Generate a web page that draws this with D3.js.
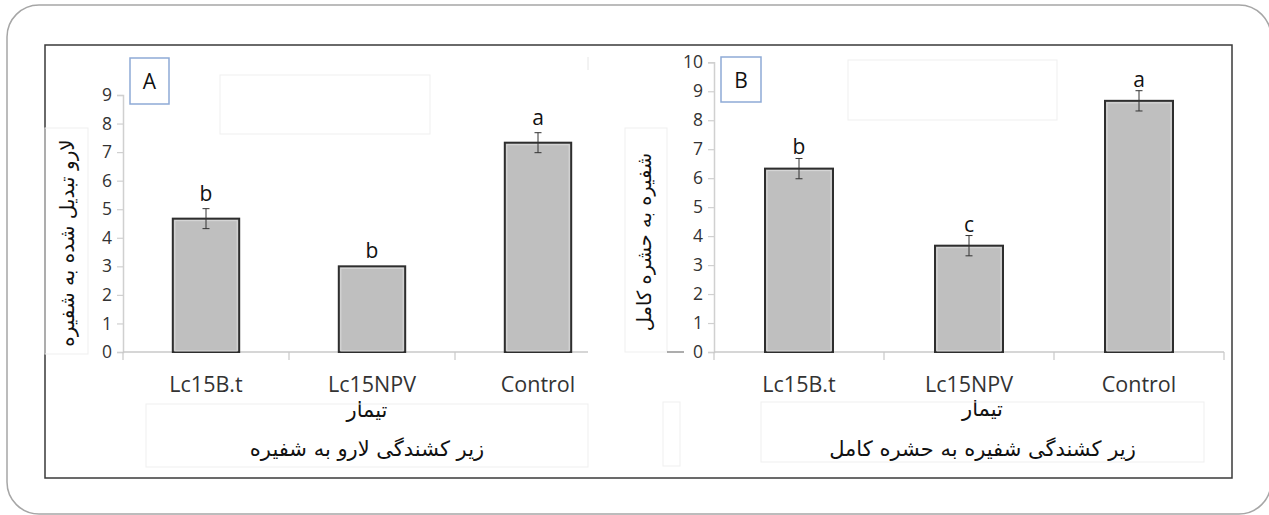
<!DOCTYPE html>
<html>
<head>
<meta charset="utf-8">
<script src="https://cdn.jsdelivr.net/npm/d3@7"></script>
<style>
  body { margin: 0; background: #fff; }
  svg { display: block; }
</style>
</head>
<body>
<svg id="chart"></svg>
<script>
const categories = ["Lc15B.t", "Lc15NPV", "Control"];

const meansA = [4.67, 3.0, 7.33];
const errorsA = [0.35, 0, 0.35];
const lettersA = ["b", "b", "a"];
const ticksA = [0, 1, 2, 3, 4, 5, 6, 7, 8, 9];

const meansB = [6.33, 3.67, 8.67];
const errorsB = [0.35, 0.35, 0.35];
const lettersB = ["b", "c", "a"];
const ticksB = [0, 1, 2, 3, 4, 5, 6, 7, 8, 9, 10];

const yTitleA = "لارو تبدیل شده به شفیره";
const yTitleB = "شفیره به حشره کامل";
const xTitle = "تیمار";
const subTitleA = "زیر کشندگی لارو به شفیره";
const subTitleB = "زیر کشندگی شفیره به حشره کامل";

const width = 1269;
const height = 515;
const latin = "'Open Sans', 'Liberation Sans', sans-serif";
const persian = "'DejaVu Sans', 'Noto Sans', sans-serif";

const svg = d3.select("#chart").attr("width", width).attr("height", height);

// slide outline + figure frame
svg.append("rect")
  .attr("x", 7).attr("y", 5).attr("width", 1264).attr("height", 509)
  .attr("rx", 32).attr("fill", "none")
  .attr("stroke", "#a6a6a6").attr("stroke-width", 1.5);

svg.append("rect")
  .attr("x", 45).attr("y", 45).attr("width", 1187).attr("height", 433)
  .attr("fill", "#fff").attr("stroke", "#3a3a3a").attr("stroke-width", 1.5);

function faintBox(x0, y0, x1, y1) {
  svg.append("rect")
    .attr("x", x0).attr("y", y0).attr("width", x1 - x0).attr("height", y1 - y0)
    .attr("fill", "none").attr("stroke", "#efefef").attr("stroke-width", 1);
}

function drawPanel(p) {
  const g = svg.append("g");
  const x = d3.scaleBand().domain(categories).range(p.xRange).paddingInner(0.6).paddingOuter(0.3);
  const y = d3.scaleLinear().domain([0, p.yMax]).range([352, p.yTop]);
  const data = categories.map((c, i) => ({ c, m: p.means[i], e: p.errors[i], l: p.letters[i] }));

  // faint helper boxes from the original layout
  faintBox(...p.yTitleBox);
  faintBox(...p.xTitleBox);
  faintBox(...p.emptyBox);

  // y axis
  const yAxis = g.append("g")
    .attr("transform", `translate(${p.xRange[0]},0)`)
    .call(d3.axisLeft(y).tickValues(p.ticks).tickSize(6).tickPadding(5));
  yAxis.select(".domain").attr("stroke", "#d0d0d0").attr("stroke-width", 1.5);
  yAxis.selectAll(".tick line").attr("stroke", "#d0d0d0").attr("stroke-width", 1.2);
  yAxis.selectAll(".tick text")
    .attr("fill", "#333").attr("font-size", 17.5).attr("font-family", latin);

  // x axis (line drawn only over the visible plot area)
  const step = x.step();
  const bounds = d3.range(categories.length + 1).map((i) => p.xRange[0] + i * step)
    .filter((b) => b <= p.axisEnd + 0.5);
  g.append("line")
    .attr("x1", p.xRange[0]).attr("x2", p.axisEnd)
    .attr("y1", y(0)).attr("y2", y(0))
    .attr("stroke", "#c8c8c8").attr("stroke-width", 1.5);
  g.selectAll(".xtick").data(bounds).join("line")
    .attr("x1", (d) => d).attr("x2", (d) => d)
    .attr("y1", y(0)).attr("y2", y(0) + 8)
    .attr("stroke", "#c8c8c8").attr("stroke-width", 1.2);
  g.selectAll(".xlab").data(categories).join("text")
    .attr("x", (d) => x(d) + x.bandwidth() / 2)
    .attr("y", 392)
    .attr("text-anchor", "middle")
    .attr("fill", "#333").attr("font-size", 21.5).attr("font-family", latin)
    .text((d) => d);

  // bars
  g.selectAll(".bar").data(data).join("rect")
    .attr("x", (d) => x(d.c)).attr("y", (d) => y(d.m))
    .attr("width", x.bandwidth()).attr("height", (d) => y(0) - y(d.m))
    .attr("fill", "#bfbfbf").attr("stroke", "#2e2e2e").attr("stroke-width", 2);
  g.selectAll(".barhi").data(data).join("rect")
    .attr("x", (d) => x(d.c) + 2).attr("y", (d) => y(d.m) + 2)
    .attr("width", x.bandwidth() - 4).attr("height", (d) => y(0) - y(d.m) - 3)
    .attr("fill", "none").attr("stroke", "#d9d9d9").attr("stroke-width", 1);

  // error bars
  const eb = data.filter((d) => d.e > 0);
  const cx = (d) => x(d.c) + x.bandwidth() / 2;
  g.selectAll(".ev").data(eb).join("line")
    .attr("x1", cx).attr("x2", cx)
    .attr("y1", (d) => y(d.m + d.e)).attr("y2", (d) => y(d.m - d.e))
    .attr("stroke", "#333").attr("stroke-width", 1);
  ["top", "bot"].forEach((k) => {
    g.selectAll(".ec" + k).data(eb).join("line")
      .attr("x1", (d) => cx(d) - 3.5).attr("x2", (d) => cx(d) + 3.5)
      .attr("y1", (d) => y(k === "top" ? d.m + d.e : d.m - d.e))
      .attr("y2", (d) => y(k === "top" ? d.m + d.e : d.m - d.e))
      .attr("stroke", "#333").attr("stroke-width", 1);
  });

  // significance letters
  g.selectAll(".letter").data(data).join("text")
    .attr("x", cx)
    .attr("y", (d) => y(d.m + d.e) - p.letterGap)
    .attr("text-anchor", "middle")
    .attr("fill", "#111").attr("font-size", 21).attr("font-family", latin)
    .text((d) => d.l);

  // panel label
  g.append("rect")
    .attr("x", p.labelBox[0]).attr("y", p.labelBox[1])
    .attr("width", p.labelBox[2]).attr("height", p.labelBox[3])
    .attr("fill", "#fff").attr("stroke", "#8eaad6").attr("stroke-width", 1.5);
  g.append("text")
    .attr("x", p.labelBox[0] + p.labelBox[2] / 2)
    .attr("y", p.labelBox[1] + 31)
    .attr("text-anchor", "middle")
    .attr("fill", "#111").attr("font-size", 21).attr("font-family", latin)
    .text(p.label);

  // y title (rotated)
  g.append("text")
    .attr("transform", `translate(${p.yTitlePos[0]},${p.yTitlePos[1]}) rotate(-90)`)
    .attr("text-anchor", "middle")
    .attr("fill", "#111").attr("font-size", p.yTitleSize).attr("font-family", persian)
    .text(p.yTitle);

  // x titles
  const tx = (p.xTitleBox[0] + p.xTitleBox[2]) / 2;
  g.append("text")
    .attr("x", tx).attr("y", p.xTitleY[0])
    .attr("text-anchor", "middle")
    .attr("fill", "#111").attr("font-size", 21).attr("font-family", persian)
    .text(xTitle);
  g.append("text")
    .attr("x", tx).attr("y", p.xTitleY[1])
    .attr("text-anchor", "middle")
    .attr("fill", "#111").attr("font-size", 21).attr("font-family", persian)
    .text(p.subTitle);
}

drawPanel({
  label: "A",
  means: meansA, errors: errorsA, letters: lettersA, ticks: ticksA,
  yMax: 9, yTop: 95,
  xRange: [123, 621], axisEnd: 588,
  letterGap: 8,
  labelBox: [130, 58, 39, 46],
  emptyBox: [220, 75, 430, 134],
  yTitleBox: [45, 128, 88, 354],
  xTitleBox: [146, 404, 588, 467],
  yTitlePos: [74, 243], yTitleSize: 20,
  xTitleY: [417, 456],
  yTitle: yTitleA, subTitle: subTitleA,
});

drawPanel({
  label: "B",
  means: meansB, errors: errorsB, letters: lettersB, ticks: ticksB,
  yMax: 10, yTop: 62.3,
  xRange: [714, 1224], axisEnd: 1224,
  letterGap: 4,
  labelBox: [721, 57, 40, 45],
  emptyBox: [848, 60, 1057, 120],
  yTitleBox: [625, 128, 667, 352],
  xTitleBox: [761, 402, 1204, 462],
  yTitlePos: [651, 242], yTitleSize: 19.5,
  xTitleY: [416, 456],
  yTitle: yTitleB, subTitle: subTitleB,
});

// small leftover marks from the source figure
faintBox(663, 402, 680, 466);
svg.append("line")
  .attr("x1", 667).attr("x2", 684).attr("y1", 352).attr("y2", 352)
  .attr("stroke", "#777").attr("stroke-width", 1.2);
svg.append("line")
  .attr("x1", 588).attr("x2", 588).attr("y1", 57).attr("y2", 70)
  .attr("stroke", "#e6e6e6").attr("stroke-width", 1);
</script>
</body>
</html>
